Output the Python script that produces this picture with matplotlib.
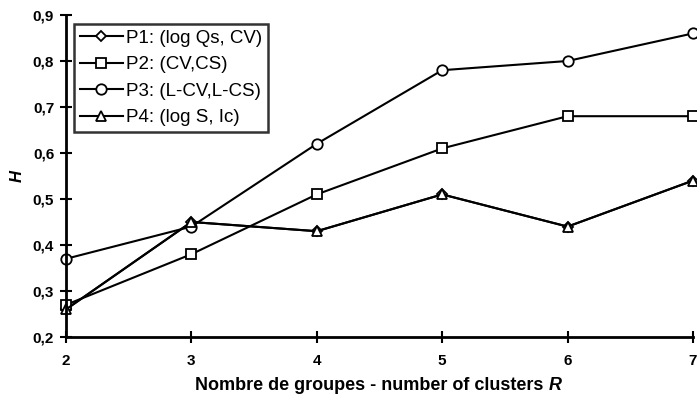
import matplotlib
matplotlib.use("Agg")
import matplotlib.pyplot as plt
from matplotlib.ticker import FuncFormatter

plt.rcParams['font.family'] = ['Liberation Sans', 'DejaVu Sans']

R = [2, 3, 4, 5, 6, 7]
p1 = [0.26, 0.45, 0.43, 0.51, 0.44, 0.54]
p2 = [0.27, 0.38, 0.51, 0.61, 0.68, 0.68]
p3 = [0.37, 0.44, 0.62, 0.78, 0.80, 0.86]
p4 = [0.26, 0.45, 0.43, 0.51, 0.44, 0.54]
labels = ["P1: (log Qs, CV)", "P2: (CV,CS)", "P3: (L-CV,L-CS)", "P4: (log S, Ic)"]
yticks = [0.2, 0.3, 0.4, 0.5, 0.6, 0.7, 0.8, 0.9]

fig = plt.figure(figsize=(6.97, 4.01), dpi=100)
ax = fig.add_axes([66/697, 1-337/401, (693-66)/697, (337-15)/401])

kw = dict(color='black', lw=1.5, mfc='white', mec='black', mew=1.3, clip_on=False)
ax.plot(R, p1, marker='D', ms=5, label=labels[0], **kw)
ax.plot(R, p2, marker='s', ms=7, label=labels[1], **kw)
ax.plot(R, p3, marker='o', ms=7.5, label=labels[2], **kw)
ax.plot(R, p4, marker='^', ms=7, label=labels[3], **kw)

ax.set_xlim(2, 7)
ax.set_ylim(0.2, 0.9)
ax.set_xticks(R)
ax.set_yticks(yticks)
ax.yaxis.set_major_formatter(FuncFormatter(lambda v, p: f"{v:.1f}".replace('.', ',')))
for s in ['top', 'right']:
    ax.spines[s].set_visible(False)
for s in ['left', 'bottom']:
    ax.spines[s].set_linewidth(2)
ax.tick_params(direction='inout', length=9, width=1.5, labelsize=11)
ax.tick_params(axis='x', pad=8)
ax.tick_params(axis='y', pad=4)
for t in ax.get_xticklabels() + ax.get_yticklabels():
    t.set_fontweight('bold')

ax.set_ylabel("H", fontsize=12, fontweight='bold', style='italic', labelpad=6)

leg = ax.legend(loc='upper left', bbox_to_anchor=(8/627, 1-9/322), fontsize=13.5,
                frameon=True, fancybox=False, edgecolor='black', handlelength=2.3,
                handletextpad=0.2, borderpad=0.3, labelspacing=0.5, borderaxespad=0)
leg.get_frame().set_linewidth(1.8)

# x label with italic R
r = fig.canvas.get_renderer()
txt = fig.text(0, 0, "Nombre de groupes - number of clusters ", fontsize=13, fontweight='bold',
               va='center')
txtR = fig.text(0, 0, "R", fontsize=13, fontweight='bold', style='italic', va='center')
w1 = txt.get_window_extent(r).width
w2 = txtR.get_window_extent(r).width
W = fig.bbox.width
cx = (190 + 567) / 2
start = cx - (w1 + w2) / 2
ypos = 1 - 386/401
txt.set_position((start / W, ypos))
txtR.set_position(((start + w1) / W, ypos))

fig.savefig("out.png", dpi=100)
